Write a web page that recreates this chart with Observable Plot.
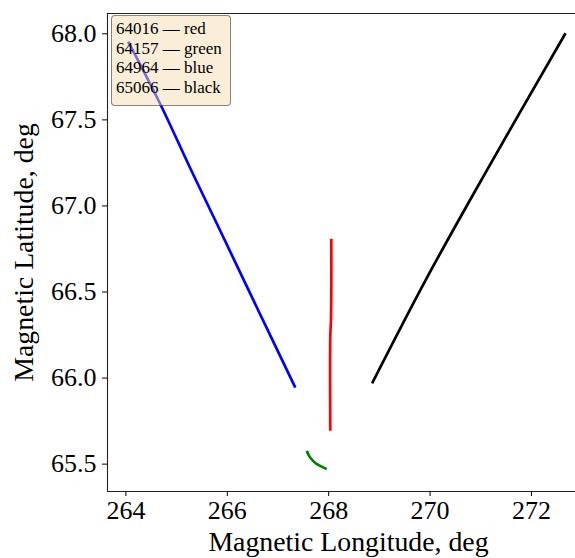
<!DOCTYPE html>
<html><head><meta charset="utf-8">
<script src="https://cdn.jsdelivr.net/npm/d3@7"></script>
<script src="https://cdn.jsdelivr.net/npm/@observablehq/plot@0.6"></script>
<style>
body{margin:0;background:#fff;}
#wrap{position:relative;width:575px;height:558px;overflow:hidden;}
#legend{position:absolute;left:111px;top:15px;width:114px;height:86px;box-sizing:content-box;background:rgba(245,222,179,0.5);border:1.3px solid rgba(0,0,0,0.45);border-radius:4px;font-family:"Liberation Serif",serif;font-size:17px;line-height:19.5px;padding:3px 0 0 4px;color:#000;white-space:nowrap;}
</style>
</head><body>
<div id="wrap"><div id="legend"></div></div>
<script>
// Satellite IDs and colours
const ids = ["64016", "64157", "64964", "65066"];
const colors = ["red", "green", "blue", "black"];
const colorNames = ["red", "green", "blue", "black"];

// Tracks (magnetic longitude / latitude, deg)
const lon64016 = [268.052, 268.052, 268.045, 268.032, 268.032];
const lat64016 = [66.810, 66.500, 66.333, 66.246, 65.694];

const lon64157 = [267.567, 267.620, 267.691, 267.760, 267.830, 267.962];
const lat64157 = [65.577, 65.545, 65.519, 65.502, 65.490, 65.471];

const lon64964 = [264.045, 264.663, 265.260, 265.861, 266.600, 267.342];
const lat64964 = [67.955, 67.601, 67.225, 66.856, 66.400, 65.944];

const lon65066 = [268.856, 269.942, 271.126, 272.672];
const lat65066 = [65.969, 66.585, 67.210, 68.003];

const xTicks = [264, 266, 268, 270, 272];
const yTicks = [65.5, 66.0, 66.5, 67.0, 67.5, 68.0];
const xLabel = "Magnetic Longitude, deg";
const yLabel = "Magnetic Latitude, deg";

const series = [[lon64016, lat64016], [lon64157, lat64157], [lon64964, lat64964], [lon65066, lat65066]];
const data = [];
series.forEach(([lo, la], i) => lo.forEach((v, j) => data.push({id: ids[i], color: colors[i], lon: v, lat: la[j]})));

const chart = Plot.plot({
  width: 575, height: 558,
  marginLeft: 107, marginRight: 0, marginTop: 13, marginBottom: 67,
  style: {fontFamily: "Liberation Serif, serif", fontSize: "26px", color: "#000", background: "#fff"},
  x: {domain: [263.637, 272.869], label: null},
  y: {domain: [65.341, 68.118], label: null},
  marks: [
    Plot.line(data, {x: "lon", y: "lat", z: "id", stroke: "color", strokeWidth: 2.7, strokeLinecap: "butt", curve: "catmull-rom"}),
    Plot.frame({anchor: "left", stroke: "#222", strokeWidth: 1.1}),
    Plot.frame({anchor: "top", stroke: "#222", strokeWidth: 1.1}),
    Plot.frame({anchor: "bottom", stroke: "#222", strokeWidth: 1.1}),
    Plot.axisX({ticks: xTicks, tickFormat: d => String(d), tickSize: 5, tickPadding: 4, fontSize: 26, label: null}),
    Plot.axisY({ticks: yTicks, tickFormat: d => d.toFixed(1), tickSize: 5, tickPadding: 6, fontSize: 26, label: null}),
    Plot.text([xLabel], {frameAnchor: "bottom", textAnchor: "middle", lineAnchor: "bottom", dx: 7, dy: 59, fontSize: 27.8, text: d => d}),
    Plot.text([yLabel], {frameAnchor: "left", textAnchor: "middle", lineAnchor: "middle", rotate: -90, dx: -83, fontSize: 27.8, text: d => d})
  ]
});
document.getElementById("wrap").prepend(chart);

const leg = document.getElementById("legend");
ids.forEach((id, i) => {
  const div = document.createElement("div");
  div.textContent = id + " \u2014 " + colorNames[i];
  leg.appendChild(div);
});
</script>
</body></html>
